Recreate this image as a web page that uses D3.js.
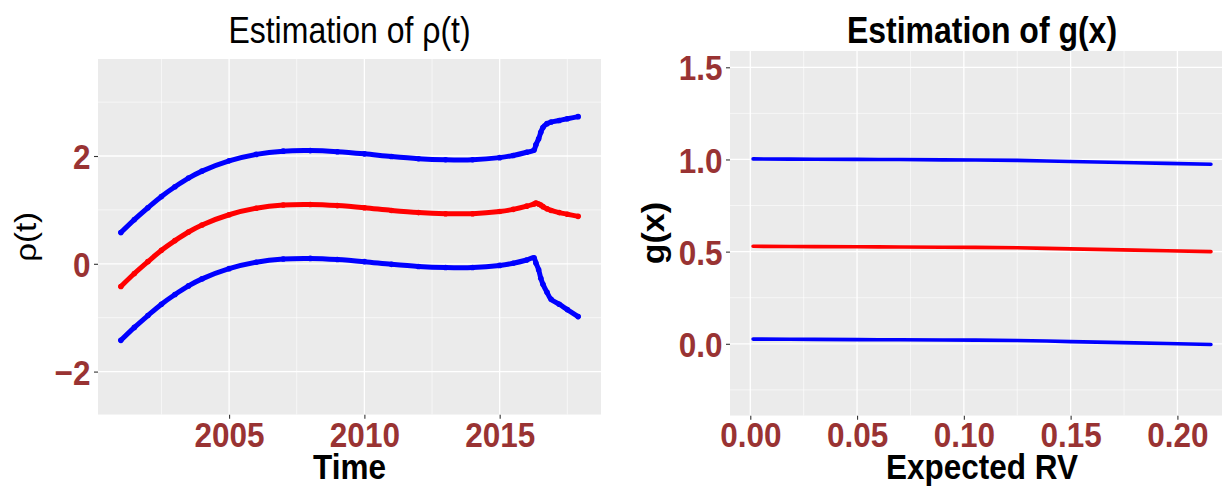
<!DOCTYPE html>
<html>
<head>
<meta charset="utf-8">
<script src="https://cdn.jsdelivr.net/npm/d3@7"></script>
<style>
  body { margin: 0; background: #fff; }
  svg { display: block; font-family: "Liberation Sans", Arial, sans-serif; }
</style>
</head>
<body>
<div id="chart"></div>
<script>
// left panel: rho(t) estimate with bands
var years = [2001, 2001.5, 2002, 2002.5, 2003, 2003.5, 2004, 2005, 2006, 2007, 2008, 2009, 2010,
  2011, 2012, 2013, 2014, 2015, 2015.5, 2016, 2016.27, 2016.34, 2016.44, 2016.52, 2016.6,
  2016.75, 2016.9, 2017.2, 2017.5, 2017.9];
var rho_mid = [-0.42, -0.18, 0.04, 0.25, 0.43, 0.59, 0.72, 0.91, 1.03, 1.09, 1.10, 1.08, 1.04,
  0.99, 0.95, 0.93, 0.93, 0.97, 1.01, 1.07, 1.11, 1.127, 1.11, 1.09, 1.06,
  1.02, 0.99, 0.95, 0.92, 0.88];
var rho_upper = [0.58, 0.82, 1.04, 1.25, 1.43, 1.59, 1.72, 1.91, 2.03, 2.09, 2.10, 2.08, 2.04,
  1.99, 1.95, 1.93, 1.93, 1.97, 2.01, 2.07, 2.11, 2.21, 2.32, 2.44, 2.53,
  2.60, 2.63, 2.66, 2.69, 2.73];
var rho_lower = [-1.42, -1.18, -0.96, -0.75, -0.57, -0.41, -0.28, -0.09, 0.03, 0.09, 0.10, 0.08, 0.04,
  -0.01, -0.05, -0.07, -0.07, -0.03, 0.01, 0.07, 0.11, 0.013, -0.11, -0.27, -0.38,
  -0.53, -0.66, -0.75, -0.85, -0.98];
var rho_x_ticks = [2005, 2010, 2015];
var rho_x_minor = [2002.5, 2007.5, 2012.5, 2017.5];
var rho_y_ticks = [-2, 0, 2];
var rho_y_minor = [-1, 1, 3];

// right panel: g(x) estimate
var rv = [0.0013, 0.03, 0.06, 0.09, 0.125, 0.15, 0.18, 0.2157];
var g_mid = [0.529, 0.527, 0.526, 0.524, 0.521, 0.515, 0.508, 0.500];
var g_upper = [1.003, 1.001, 1.000, 0.998, 0.995, 0.989, 0.982, 0.974];
var g_lower = [0.0255, 0.024, 0.022, 0.021, 0.018, 0.012, 0.005, -0.004];
var g_x_ticks = [0, 0.05, 0.10, 0.15, 0.20];
var g_x_minor = [0.025, 0.075, 0.125, 0.175, 0.225];
var g_y_ticks = [0, 0.5, 1.0, 1.5];
var g_y_minor = [-0.25, 0.25, 0.75, 1.25];

var width = 1222, height = 486;
var tick_red = "#993333";

var svg = d3.select("#chart").append("svg")
  .attr("width", width)
  .attr("height", height);

function drawPanel(opt) {
  var b = opt.box;
  var x = d3.scaleLinear().domain(opt.xdom).range([b.x0, b.x1]);
  var y = d3.scaleLinear().domain(opt.ydom).range([b.y1, b.y0]);

  var clipId = "clip-" + opt.id;
  svg.append("clipPath").attr("id", clipId)
    .append("rect")
    .attr("x", b.x0).attr("y", b.y0)
    .attr("width", b.x1 - b.x0).attr("height", b.y1 - b.y0);

  var g = svg.append("g").attr("clip-path", "url(#" + clipId + ")");

  g.append("rect")
    .attr("x", b.x0).attr("y", b.y0)
    .attr("width", b.x1 - b.x0).attr("height", b.y1 - b.y0)
    .attr("fill", "#EBEBEB");

  // grid
  g.selectAll(".vminor").data(opt.xminor).enter().append("line")
    .attr("x1", d => x(d)).attr("x2", d => x(d))
    .attr("y1", b.y0).attr("y2", b.y1)
    .attr("stroke", "#fff").attr("stroke-width", 0.6);
  g.selectAll(".hminor").data(opt.yminor).enter().append("line")
    .attr("y1", d => y(d)).attr("y2", d => y(d))
    .attr("x1", b.x0).attr("x2", b.x1)
    .attr("stroke", "#fff").attr("stroke-width", 0.6);
  g.selectAll(".vmajor").data(opt.xticks).enter().append("line")
    .attr("x1", d => x(d)).attr("x2", d => x(d))
    .attr("y1", b.y0).attr("y2", b.y1)
    .attr("stroke", "#fff").attr("stroke-width", 1.3);
  g.selectAll(".hmajor").data(opt.yticks).enter().append("line")
    .attr("y1", d => y(d)).attr("y2", d => y(d))
    .attr("x1", b.x0).attr("x2", b.x1)
    .attr("stroke", "#fff").attr("stroke-width", 1.3);

  var line = d3.line()
    .curve(d3.curveCatmullRom.alpha(0.5))
    .x((d, i) => x(opt.xs[i]))
    .y(d => y(d));

  opt.series.forEach(function(s) {
    g.append("path")
      .attr("d", line(s.values))
      .attr("fill", "none")
      .attr("stroke", s.color)
      .attr("stroke-width", opt.lw)
      .attr("stroke-linecap", "round");
    if (opt.dots) {
      g.selectAll(null).data(s.values).enter().append("circle")
        .attr("cx", (d, i) => x(opt.xs[i]))
        .attr("cy", d => y(d))
        .attr("r", opt.lw / 2 + 0.3)
        .attr("fill", s.color);
    }
  });

  // axes
  var xa = svg.append("g")
    .attr("transform", "translate(0," + b.y1 + ")")
    .call(d3.axisBottom(x).tickValues(opt.xticks).tickFormat(opt.xfmt).tickSize(4).tickPadding(opt.xpad));
  var ya = svg.append("g")
    .attr("transform", "translate(" + b.x0 + ",0)")
    .call(d3.axisLeft(y).tickValues(opt.yticks).tickFormat(opt.yfmt).tickSize(4).tickPadding(3));

  [xa, ya].forEach(function(a) {
    a.select(".domain").remove();
    a.selectAll(".tick line").attr("stroke", "#333333").attr("stroke-width", 1.1);
    a.selectAll(".tick text")
      .attr("fill", tick_red)
      .style("font-size", "35px")
      .style("font-weight", "bold")
      .style("font-family", "'Liberation Sans', Arial, sans-serif");
  });
  xa.selectAll(".tick text").attr("transform", "scale(0.9,1)");
  ya.selectAll(".tick text").attr("x", -7.5 / 0.9).attr("dy", "0.36em").attr("transform", "scale(0.9,1)");

  // titles
  var cx = (b.x0 + b.x1) / 2;
  svg.append("text")
    .attr("transform", "translate(" + cx + "," + opt.titleY + ") scale(0.865,1)")
    .attr("text-anchor", "middle")
    .style("font-size", "37px")
    .style("font-weight", opt.titleBold ? "bold" : "normal")
    .text(opt.title);

  svg.append("text")
    .attr("transform", "translate(" + cx + "," + opt.xlabY + ") scale(0.9,1)")
    .attr("text-anchor", "middle")
    .style("font-size", "35px")
    .style("font-weight", "bold")
    .text(opt.xlab);

  svg.append("text")
    .attr("transform", "translate(" + opt.ylabX + "," + ((b.y0 + b.y1) / 2) + ") rotate(-90) scale(1,0.9)")
    .attr("text-anchor", "middle")
    .style("font-size", opt.ylabSize + "px")
    .style("font-weight", opt.ylabBold ? "bold" : "normal")
    .text(opt.ylab);
}

drawPanel({
  id: "rho",
  box: {x0: 98, x1: 601, y0: 59, y1: 414.7},
  xdom: [2000.155, 2018.745],
  ydom: [-2.8, 3.8],
  xticks: rho_x_ticks, xminor: rho_x_minor,
  yticks: rho_y_ticks, yminor: rho_y_minor,
  xfmt: d3.format("d"), yfmt: d => d < 0 ? "\u2212" + Math.abs(d) : d,
  xpad: 3,
  xs: years,
  series: [
    {values: rho_upper, color: "#0000FF"},
    {values: rho_lower, color: "#0000FF"},
    {values: rho_mid, color: "#FF0000"}
  ],
  lw: 5, dots: true,
  title: "Estimation of \u03C1(t)", titleBold: false, titleY: 43,
  xlab: "Time", xlabY: 479,
  ylab: "\u03C1(t)", ylabX: 36, ylabSize: 33, ylabBold: false
});

drawPanel({
  id: "g",
  box: {x0: 730, x1: 1234, y0: 50.7, y1: 415.7},
  xdom: [-0.0095, 0.2265],
  ydom: [-0.39, 1.59],
  xticks: g_x_ticks, xminor: g_x_minor,
  yticks: g_y_ticks, yminor: g_y_minor,
  xfmt: d3.format(".2f"), yfmt: d3.format(".1f"),
  xpad: 2,
  xs: rv,
  series: [
    {values: g_upper, color: "#0000FF"},
    {values: g_lower, color: "#0000FF"},
    {values: g_mid, color: "#FF0000"}
  ],
  lw: 3.6, dots: false,
  title: "Estimation of g(x)", titleBold: true, titleY: 43,
  xlab: "Expected RV", xlabY: 479,
  ylab: "g(x)", ylabX: 664, ylabSize: 34, ylabBold: true
});
</script>
</body>
</html>
